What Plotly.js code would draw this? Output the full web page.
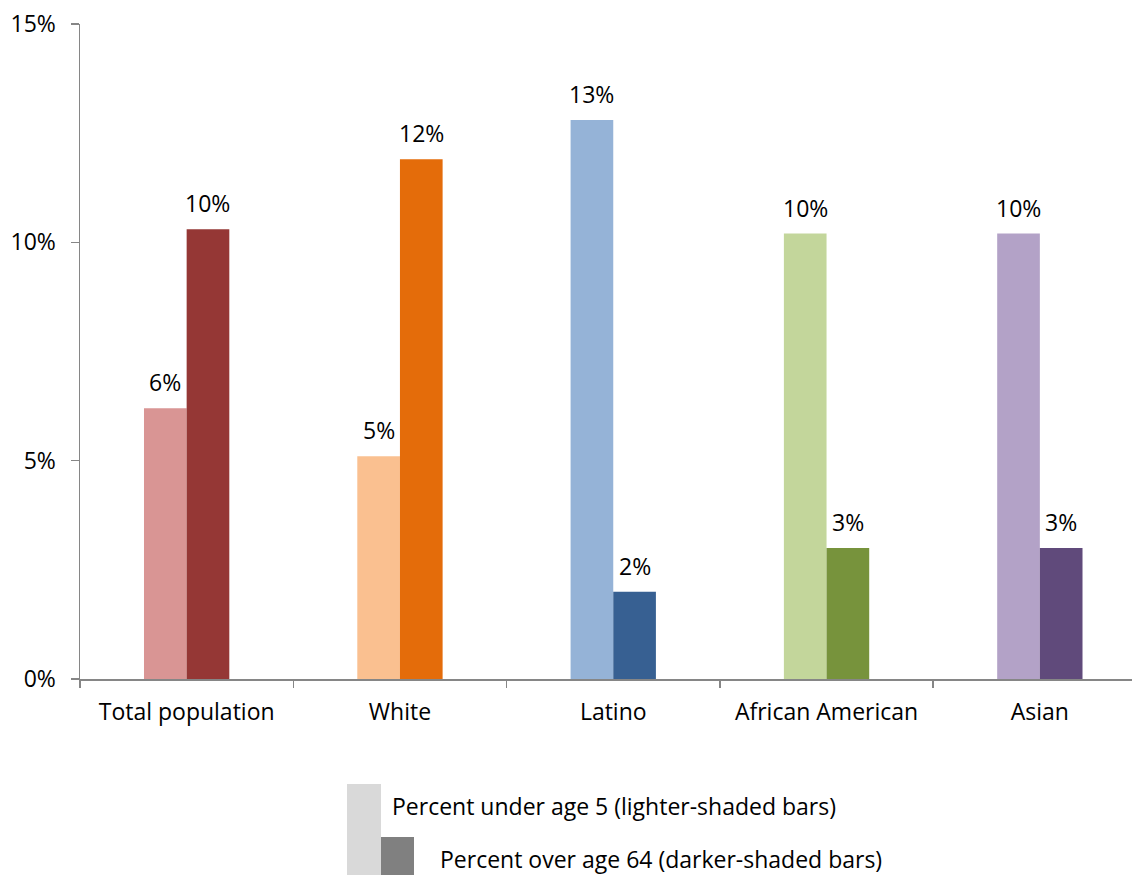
<!DOCTYPE html>
<html>
<head>
<meta charset="utf-8">
<script src="https://cdn.plot.ly/plotly-3.0.1.min.js"></script>
<style>html,body{margin:0;padding:0;background:#fff;}#chart{width:1132px;height:875px;}</style>
</head>
<body>
<div id="chart"></div>
<script>
const categories = ["Total population", "White", "Latino", "African American", "Asian"];
const under5 = [6.2, 5.1, 12.8, 10.2, 10.2];
const over64 = [10.3, 11.9, 2.0, 3.0, 3.0];
const lightColors = ["#D99594", "#FAC090", "#95B3D7", "#C3D69B", "#B3A2C7"];
const darkColors = ["#953735", "#E46C0A", "#376092", "#77933C", "#604A7B"];
const yTicks = [0, 5, 10, 15];
const yTickLabels = ["0%", "5%", "10%", "15%"];
const legendLabels = ["Percent under age 5 (lighter-shaded bars)", "Percent over age 64 (darker-shaded bars)"];

const W = 1132, H = 875;
const mL = 80, mR = 0, mT = 24, mB = 196;
const pw = W - mL - mR, ph = H - mT - mB;
const px = x => (x - mL) / pw;
const py = y => (H - mB - y) / ph;
const catW = 213.3;
const bargap = 0.6;
const barPx = catW * (1 - bargap) / 2;

const font = {family: "Open Sans, Liberation Sans, sans-serif", size: 23, color: "#000"};

const traces = [
  {type: "bar", x: categories, y: under5, name: legendLabels[0],
   marker: {color: lightColors}, hoverinfo: "none"},
  {type: "bar", x: categories, y: over64, name: legendLabels[1],
   marker: {color: darkColors}, hoverinfo: "none"}
];

const labels = [];
categories.forEach((c, i) => {
  labels.push({x: c, y: under5[i], xref: "x", yref: "y", xshift: -barPx / 2, yshift: 26,
    yanchor: "middle", xanchor: "center", showarrow: false, text: Math.round(under5[i]) + "%", font: font});
  labels.push({x: c, y: over64[i], xref: "x", yref: "y", xshift: barPx / 2, yshift: 26,
    yanchor: "middle", xanchor: "center", showarrow: false, text: Math.round(over64[i]) + "%", font: font});
});

const layout = {
  width: W, height: H,
  margin: {l: mL, r: mR, t: mT, b: mB},
  paper_bgcolor: "#fff", plot_bgcolor: "#fff",
  font: font,
  showlegend: false,
  barmode: "group", bargap: bargap, bargroupgap: 0,
  xaxis: {
    type: "category", range: [-0.5, -0.5 + (W - mL) / catW],
    showline: true, linecolor: "#868686", linewidth: 1.5,
    ticks: "outside", tickson: "boundaries", ticklen: 7, tickcolor: "#868686", tickwidth: 1.5,
    ticklabelstandoff: 12,
    showgrid: false, zeroline: false, tickfont: font, fixedrange: true
  },
  yaxis: {
    range: [0, 15], tickvals: yTicks, ticktext: yTickLabels,
    showline: true, linecolor: "#868686", linewidth: 1.5,
    ticks: "outside", ticklen: 8, tickcolor: "#868686", tickwidth: 1.5,
    ticklabelstandoff: 10,
    showgrid: false, zeroline: false, tickfont: font, fixedrange: true
  },
  shapes: [
    {type: "rect", xref: "paper", yref: "paper", x0: px(347), x1: px(381), y0: py(784), y1: py(875),
     fillcolor: "#D9D9D9", line: {width: 0}},
    {type: "rect", xref: "paper", yref: "paper", x0: px(381), x1: px(414), y0: py(837), y1: py(875),
     fillcolor: "#808080", line: {width: 0}}
  ],
  annotations: labels.concat([
    {xref: "paper", yref: "paper", x: px(390), y: py(806), xanchor: "left", yanchor: "middle",
     text: legendLabels[0], showarrow: false, font: font},
    {xref: "paper", yref: "paper", x: px(438), y: py(859), xanchor: "left", yanchor: "middle",
     text: legendLabels[1], showarrow: false, font: font}
  ])
};

Plotly.newPlot("chart", traces, layout, {displayModeBar: false, staticPlot: true});
</script>
</body>
</html>
